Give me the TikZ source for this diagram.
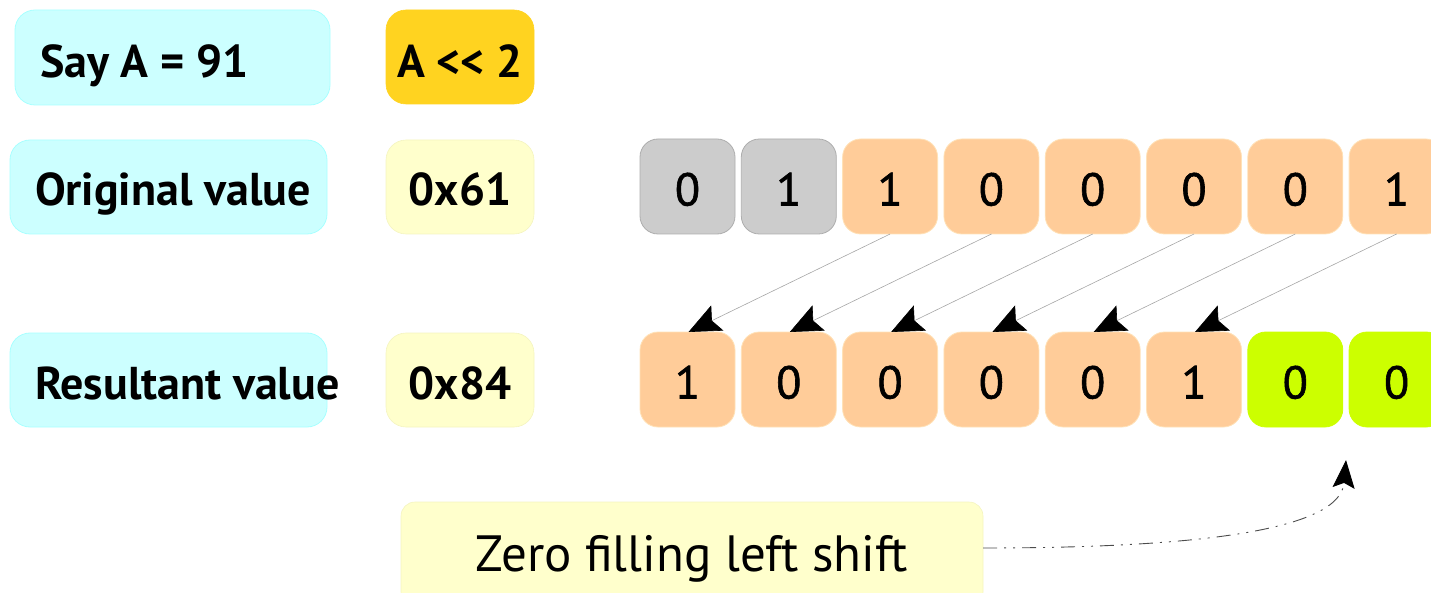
\documentclass[tikz,border=0pt]{standalone}
\usepackage{fontspec}
\setmainfont{PT Sans}
\newfontfamily\labfont{PT Sans}
\newfontfamily\notefont{PT Sans}
\newfontfamily\digitfont[FakeBold=1.3]{PT Sans}
\usetikzlibrary{arrows.meta}
\definecolor{cyanbox}{HTML}{CCFFFF}
\definecolor{cyanline}{HTML}{A8FFFF}
\definecolor{goldbox}{HTML}{FFD320}
\definecolor{paleyel}{HTML}{FFFFCC}
\definecolor{paleline}{HTML}{F4F4C0}
\definecolor{graybit}{HTML}{CCCCCC}
\definecolor{peach}{HTML}{FFCC99}
\definecolor{peachline}{HTML}{FFE2B8}
\definecolor{lime}{HTML}{CCFF00}
\tikzset{
  every node/.style={inner sep=0pt, outer sep=0pt},
  labbox/.style={rounded corners=20pt, fill=cyanbox, draw=cyanline, line width=0.8pt, minimum width=317pt, minimum height=94pt},
  hexbox/.style={rounded corners=20pt, fill=paleyel, draw=paleline, line width=0.6pt, minimum width=148pt, minimum height=94pt},
  labtext/.style={anchor=base west, font=\labfont\bfseries\fontsize{46}{50}\selectfont},
  hextext/.style={anchor=base, font=\labfont\bfseries\fontsize{46}{50}\selectfont},
  bitbox/.style={rounded corners=18pt, minimum width=95pt, minimum height=95pt, line width=0.8pt},
  bitdigit/.style={anchor=base, font=\digitfont\fontsize{46}{50}\selectfont},
  graybitbox/.style={bitbox, fill=graybit, draw=graybit!85!black},
  peachbox/.style={bitbox, fill=peach, draw=peachline},
  limebox/.style={bitbox, fill=lime, draw=lime},
  shiftarrow/.style={draw=gray!70, line width=0.6pt, -{Stealth[length=32pt, width=28pt, inset=6pt, black]}},
}
\begin{document}
\begin{tikzpicture}[x=1pt, y=-1pt]
\useasboundingbox (0,0) rectangle (1431,593);
\clip (0,0) rectangle (1431,593);

% left column
\node[labbox, minimum width=315pt, minimum height=95pt] (say) at (172.5,57.5) {};
\node[labtext] (sayt) at (40,78) {Say A = 91};
\node[hexbox, fill=goldbox, draw=goldbox] (shift) at (460,57) {};
\node[hextext] (shiftt) at (460,78) {A << 2};

\node[labbox] (orig) at (168.5,187) {};
\node[labtext] (origt) at (35,206) {Original value};
\node[hexbox] (hex1) at (460,187) {};
\node[hextext] (hex1t) at (460,206) {0x61};

\node[labbox] (res) at (168.5,380) {};
\node[labtext] (rest) at (35,399) {Resultant value};
\node[hexbox] (hex2) at (460,380) {};
\node[hextext] (hex2t) at (460,399) {0x84};

% top row bits
\node[graybitbox] (t0) at (687.5,186.5) {};
\node[graybitbox] (t1) at (788.8,186.5) {};
\node[peachbox] (t2) at (890.1,186.5) {};
\node[peachbox] (t3) at (991.4,186.5) {};
\node[peachbox] (t4) at (1092.7,186.5) {};
\node[peachbox] (t5) at (1194.0,186.5) {};
\node[peachbox] (t6) at (1295.3,186.5) {};
\node[peachbox] (t7) at (1396.6,186.5) {};
\foreach \n/\d in {t0/0,t1/1,t2/1,t3/0,t4/0,t5/0,t6/0,t7/1}
  \node[bitdigit] (\n d) at ([yshift=-19pt]\n.center) {\d};

% bottom row bits
\node[peachbox] (b0) at (687.5,379.5) {};
\node[peachbox] (b1) at (788.8,379.5) {};
\node[peachbox] (b2) at (890.1,379.5) {};
\node[peachbox] (b3) at (991.4,379.5) {};
\node[peachbox] (b4) at (1092.7,379.5) {};
\node[peachbox] (b5) at (1194.0,379.5) {};
\node[limebox] (b6) at (1295.3,379.5) {};
\node[limebox] (b7) at (1396.6,379.5) {};
\foreach \n/\d in {b0/1,b1/0,b2/0,b3/0,b4/0,b5/1,b6/0,b7/0}
  \node[bitdigit] (\n d) at ([yshift=-19pt]\n.center) {\d};

% shift arrows
\draw[shiftarrow] (t2.south) -- ([xshift=1pt]b0.north);
\draw[shiftarrow] (t3.south) -- ([xshift=1pt]b1.north);
\draw[shiftarrow] (t4.south) -- ([xshift=1pt]b2.north);
\draw[shiftarrow] (t5.south) -- ([xshift=1pt]b3.north);
\draw[shiftarrow] (t6.south) -- ([xshift=1pt]b4.north);
\draw[shiftarrow] (t7.south) -- ([xshift=1pt]b5.north);

% note
\node[rounded corners=14pt, fill=paleyel, draw=paleline, line width=0.6pt, minimum width=582pt, minimum height=104pt] (note) at (692,554) {};
\node[anchor=base, font=\notefont\fontsize{51}{54}\selectfont] (notet) at (692,571) {Zero filling left shift};
\coordinate (tip) at (1346,460);
\draw[gray!60!black, line width=0.9pt, dash pattern=on 14pt off 7pt on 2pt off 7pt on 2pt off 7pt, -{Stealth[length=28pt, width=22pt, inset=5pt, black]}]
  ([yshift=6pt]note.east) .. controls (1200,548) and (1340,530) .. (tip);
\end{tikzpicture}
\end{document}
